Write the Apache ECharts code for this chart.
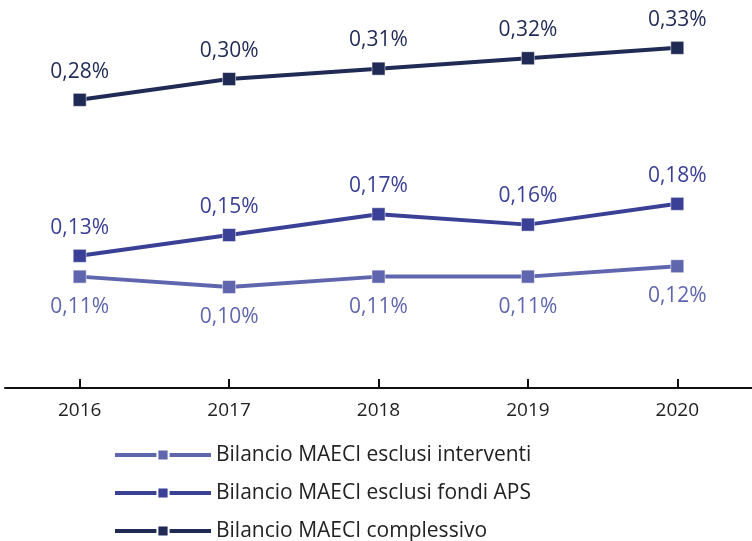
<!DOCTYPE html>
<html>
<head>
<meta charset="utf-8">
<script src="https://cdn.jsdelivr.net/npm/echarts@6/dist/echarts.min.js"></script>
<style>
  html, body { margin: 0; padding: 0; background: #fff; }
  #chart { width: 752px; height: 541px; }
</style>
</head>
<body>
<div id="chart"></div>
<script>
var anni = ['2016', '2017', '2018', '2019', '2020'];
var nomiSerie = ['Bilancio MAECI esclusi interventi', 'Bilancio MAECI esclusi fondi APS', 'Bilancio MAECI complessivo'];
var esclusiInterventi = [0.11, 0.10, 0.11, 0.11, 0.12];
var esclusiFondiAps = [0.13, 0.15, 0.17, 0.16, 0.18];
var complessivo = [0.28, 0.30, 0.31, 0.32, 0.33];
var colori = ['#5f66ae', '#3a4095', '#1f2a55'];

var myChart = echarts.init(document.getElementById('chart'));

function fmt(p) {
    return p.value.toFixed(2).replace('.', ',') + '%';
}

function serie(nome, dati, colore, pos, dist) {
    return {
        name: nome,
        type: 'line',
        data: dati,
        symbol: 'rect',
        symbolSize: 13,
        lineStyle: { width: 4, color: colore },
        itemStyle: { color: colore, borderColor: '#fff', borderWidth: 0.5 },
        label: {
            show: true,
            position: pos,
            distance: dist,
            formatter: fmt,
            color: colore,
            fontSize: 21,
            fontFamily: 'Open Sans'
        }
    };
}

var option = {
    animation: false,
    grid: { left: 5, width: 755, top: 0, bottom: 153 },
    xAxis: {
        type: 'category',
        data: anni,
        axisLine: { lineStyle: { color: '#111', width: 2 } },
        axisTick: { show: true, interval: 0, alignWithLabel: true, inside: true, length: 9, lineStyle: { color: '#111', width: 2 } },
        axisLabel: { color: '#222', fontSize: 19, fontFamily: 'Open Sans', margin: 13 }
    },
    yAxis: {
        type: 'value',
        min: 0.0029,
        max: 0.376,
        show: false,
        splitLine: { show: false }
    },
    legend: {
        data: nomiSerie,
        orient: 'vertical',
        left: 113,
        top: 444,
        height: 140,
        padding: 0,
        itemWidth: 96,
        itemHeight: 14,
        itemGap: 16,
        lineStyle: { width: 4 },
        textStyle: { color: '#222', fontSize: 21, lineHeight: 22, fontFamily: 'Open Sans' }
    },
    series: [
        serie(nomiSerie[0], esclusiInterventi, colori[0], 'bottom', 13),
        serie(nomiSerie[1], esclusiFondiAps, colori[1], 'top', 11),
        serie(nomiSerie[2], complessivo, colori[2], 'top', 11)
    ]
};

myChart.setOption(option);
</script>
</body>
</html>
